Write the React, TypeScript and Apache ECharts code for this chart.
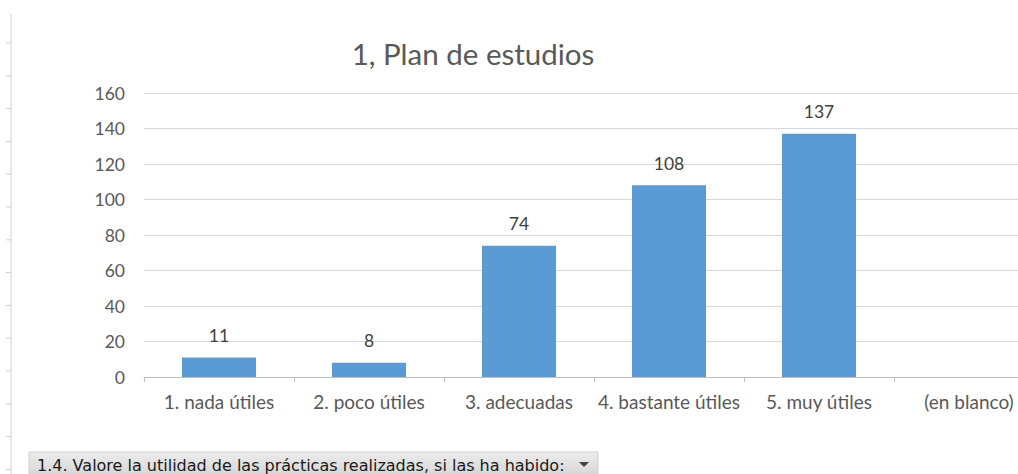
import React, { useEffect, useRef } from "react";
import * as echarts from "echarts";

const titleText = "1, Plan de estudios";
const categories = [
  "1. nada útiles",
  "2. poco útiles",
  "3. adecuadas",
  "4. bastante útiles",
  "5. muy útiles",
  "(en blanco)",
];
const counts: (number | null)[] = [11, 8, 74, 108, 137, null];
const yTicks = { min: 0, max: 160, interval: 20 };
const filterLabel = "1.4. Valore la utilidad de las prácticas realizadas, si las ha habido:";

const FONT = "Lato, 'Open Sans', sans-serif";

export default function App() {
  const ref = useRef<HTMLDivElement>(null);
  useEffect(() => {
    if (!ref.current) return;
    const chart = echarts.init(ref.current, undefined, { renderer: "svg" });
    const rulerTicks: any[] = [];
    for (let i = 0; i < 14; i++) {
      const y = 43 + i * 32.8;
      rulerTicks.push({
        type: "line",
        shape: { x1: 6, y1: y, x2: 11, y2: y },
        style: { stroke: "#d0d0d0", lineWidth: 1 },
        silent: true,
      });
    }
    chart.setOption({
      animation: false,
      backgroundColor: "#ffffff",
      textStyle: { fontFamily: FONT },
      title: {
        text: titleText,
        left: 468,
        textAlign: "center",
        top: 33,
        textStyle: { fontFamily: FONT, fontSize: 29.5, fontWeight: "normal", color: "#595959" },
      },
      grid: { left: 144, top: 93, right: 0, bottom: 97, containLabel: false },
      xAxis: {
        type: "category",
        data: categories,
        axisLine: { show: true, lineStyle: { color: "#bfbfbf", width: 1 } },
        axisTick: { show: true, length: 5, lineStyle: { color: "#bfbfbf" } },
        axisLabel: { fontFamily: FONT, fontSize: 19, color: "#595959", margin: 15, interval: 0 },
      },
      yAxis: {
        type: "value",
        min: yTicks.min,
        max: yTicks.max,
        interval: yTicks.interval,
        axisLine: { show: false },
        axisTick: { show: false },
        axisLabel: { fontFamily: FONT, fontSize: 17.5, color: "#595959", margin: 19 },
        splitLine: { lineStyle: { color: "#d9d9d9", width: 1 } },
      },
      series: [
        {
          type: "bar",
          data: counts,
          barWidth: 74,
          itemStyle: { color: "#5b9bd5" },
          label: {
            show: true,
            position: "top",
            distance: 13,
            fontFamily: FONT,
            fontSize: 17.5,
            color: "#404040",
          },
        },
      ],
      graphic: [
        {
          type: "line",
          shape: { x1: 11, y1: 14, x2: 11, y2: 474 },
          style: { stroke: "#d0d0d0", lineWidth: 1 },
          silent: true,
        },
        ...rulerTicks,
        {
          type: "rect",
          shape: { x: 29, y: 452, width: 569, height: 24 },
          style: {
            fill: new echarts.graphic.LinearGradient(0, 0, 0, 1, [
              { offset: 0, color: "#ececec" },
              { offset: 1, color: "#d6d6d6" },
            ]),
            stroke: "#cfcfcf",
            lineWidth: 1,
          },
          silent: true,
        },
        {
          type: "text",
          x: 37,
          y: 465,
          style: {
            text: filterLabel,
            fontFamily: "'DejaVu Sans', sans-serif",
            fontSize: 16,
            fill: "#1a1a1a",
            verticalAlign: "middle",
          },
          silent: true,
        },
        {
          type: "polygon",
          shape: { points: [[579, 462], [589, 462], [584, 467]] },
          style: { fill: "#404040" },
          silent: true,
        },
      ],
    });
    return () => chart.dispose();
  }, []);
  return (
    <div style={{ position: "fixed", left: 0, top: 0, width: 1018, height: 474, overflow: "hidden" }}>
      <div ref={ref} style={{ width: 1044, height: 474 }} />
    </div>
  );
}
